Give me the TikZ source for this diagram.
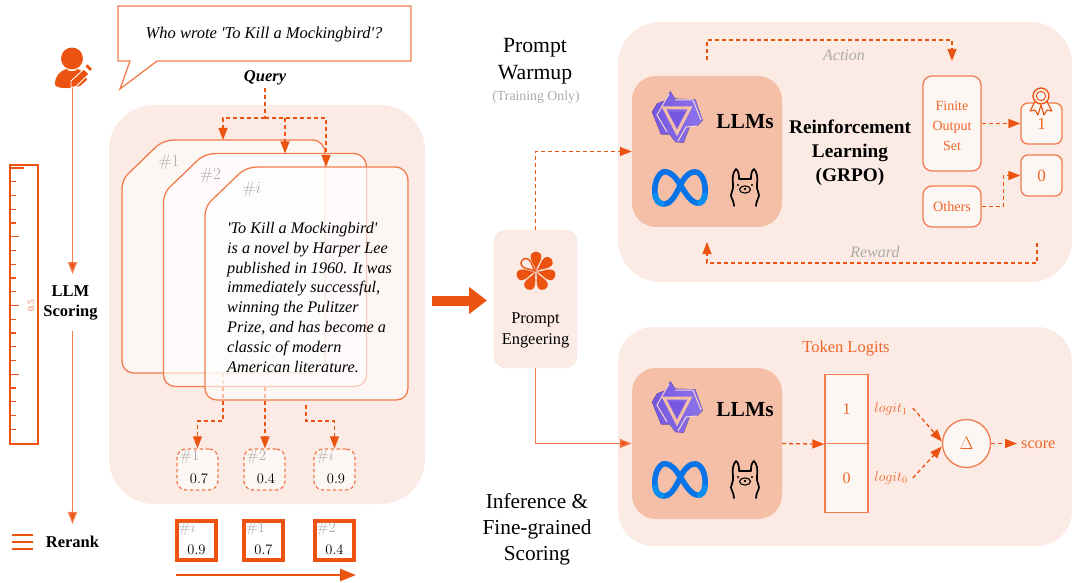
\documentclass[tikz,border=0pt]{standalone}
\usepackage{fix-cm}
\usepackage[no-math]{fontspec}
\setmainfont{Liberation Serif}
\usetikzlibrary{arrows.meta,positioning,calc}

\definecolor{accent}{HTML}{EC5310}
\definecolor{lineorg}{HTML}{F27C4E}
\definecolor{textorg}{HTML}{F0652A}
\definecolor{panelbg}{HTML}{FBEBE4}
\definecolor{llmbg}{HTML}{F5BFA7}
\definecolor{softgray}{HTML}{ABABAB}
\definecolor{qwenA}{HTML}{7556DF}
\definecolor{qwenB}{HTML}{8E74EC}
\definecolor{metaA}{HTML}{0773E6}
\definecolor{metaB}{HTML}{0A8FF0}

\newcommand{\fs}[1]{\fontsize{#1}{#1}\selectfont}

\tikzset{
	panel/.style={fill=panelbg, draw=none, inner sep=0pt},
	llmbox/.style={fill=llmbg, draw=none, rounded corners=24pt, minimum width=150pt, minimum height=151pt, inner sep=0pt},
	softbox/.style={draw=lineorg, line width=1.3pt, fill=white, fill opacity=.6, text opacity=1, rounded corners=9pt, inner sep=0pt, text=textorg, text depth=0pt},
	scorebox/.style={softbox, dash pattern=on 3.5pt off 2.5pt, minimum width=41pt, minimum height=41pt},
	rankbox/.style={draw=accent, line width=3.4pt, fill=white, minimum width=39pt, minimum height=39pt, inner sep=0pt},
	arrowtip/.style={-{Triangle[length=12pt,width=9pt,fill=accent]}},
	dashflow/.style={draw=accent, line width=1.3pt, dash pattern=on 4pt off 3pt, arrowtip},
	dashplain/.style={draw=accent, line width=1.3pt, dash pattern=on 4pt off 3pt},
	solidflow/.style={draw=lineorg, line width=1.4pt, arrowtip},
	idlabel/.style={text=softgray, font=\fs{15}, inner sep=0pt},
	grayword/.style={text=softgray, font=\itshape\fs{16}, inner sep=0pt},
	orgword/.style={text=textorg, inner sep=0pt},
	heading/.style={inner sep=0pt, align=center},
	qwenlogo/.pic={
		\fill[left color=qwenA, right color=qwenB] (-6.7,-25.7) -- (-1.7,-18.3) -- (18.3,-17.7) -- (25.7,3.3) -- (20,9) -- (13,9) -- (6.7,25.7) -- (-1.7,25) -- (-7.3,17.3) -- (-16,17.3) -- (-25,-5) -- (-20,-13.3) -- (-11.7,-16.7) -- cycle;
		\draw[llmbg!60!white, line width=1pt] (-8,-23) -- (-20,-2) -- (-10,15) (-2,-17) -- (16,-17) -- (24,3) (1,24) -- (9,10) -- (20,9);
		\draw[llmbg, line width=3pt, line join=miter] (-13,-9) -- (13,-9) -- (0,16) -- cycle;
		\fill[qwenA] (-8,-5) -- (8,-5) -- (0,9.5) -- cycle;
	},
	metalogo/.pic={
		\draw[metaA, line width=5.6pt, line join=round] (-3,-8) .. controls (-8,-15) and (-13,-17) .. (-17,-16) .. controls (-23,-13) and (-26,-3) .. (-25,5) .. controls (-25,12) and (-21,16) .. (-16,16) .. controls (-8,16) and (-3,4) .. (2,-6) .. controls (6,-13) and (11,-17) .. (16,-16) .. controls (22,-15) and (26,-5) .. (25,5) .. controls (25,12) and (21,16) .. (17,15) .. controls (10,14) and (5,4) .. (-3,-8) -- cycle;
		\draw[metaB, line width=5.6pt] (-25,5) .. controls (-25,12) and (-21,16) .. (-16,16);
		\draw[metaB, line width=5.6pt] (25,5) .. controls (25,12) and (21,16) .. (17,15);
	},
	llamalogo/.pic={
		\draw[black, line width=1.7pt, line join=round, line cap=round] (-11,18) .. controls (-11,13) and (-14,10) .. (-14,7) .. controls (-14,3) and (-11,2) .. (-12,-4) .. controls (-13,-10) and (-12,-16) .. (-9,-19) .. controls (-6,-17) and (-6,-12) .. (-6,-9) -- (6,-9) .. controls (6,-12) and (6,-17) .. (9,-19) .. controls (12,-16) and (13,-10) .. (12,-4) .. controls (11,2) and (14,3) .. (14,7) .. controls (14,10) and (11,13) .. (11,18);
		\draw[black, line width=1.1pt] (0,1.5) ellipse[x radius=5.5pt, y radius=3.6pt];
		\fill[black] (-7,-3) circle[radius=1.2pt] (7,-3) circle[radius=1.2pt] (0,1) circle[radius=1.3pt];
	},
	awardlogo/.pic={
		\draw[accent, line width=1.1pt, fill=panelbg!50!white, line join=round] (-5,4) -- (-11,15) -- (-6,14) -- (-3,19) -- (0,9) -- (3,19) -- (6,14) -- (11,15) -- (5,4) -- cycle;
		\draw[accent, line width=1.3pt, fill=panelbg] (0,0) circle[radius=8pt];
		\draw[accent, line width=1pt, fill=white] (0,0) circle[radius=4.6pt];
	},
	userlogo/.pic={
		\fill[accent] (0,-13.5) circle[radius=11pt];
		\fill[accent] (-17,12) .. controls (-17,3) and (-11,-1) .. (-6,-3) .. controls (-2,0) and (2,0) .. (6,-3) .. controls (10,-1) and (14,1) .. (15,8) -- (8,14) .. controls (-2,17) and (-17,17) .. (-17,12) -- cycle;
		\draw[white, line width=.9pt, fill=accent, line join=round] (-1,15.5) -- (-1,9) -- (12,-3) -- (17,2) -- (4,14.5) -- cycle;
		\fill[accent] (13.5,-5.5) -- (15.5,-7.5) -- (20,-3) -- (18,-1) -- cycle;
	},
	petal/.pic={
		\path[pic actions] (0,-1) .. controls (-1,-6) and (-5.5,-10) .. (-5.3,-15) .. controls (-5,-21.5) and (5,-21.5) .. (5.3,-15) .. controls (5.5,-10) and (1,-6) .. (0,-1) -- cycle;
	},
}

\begin{document}
\begin{tikzpicture}[x=1pt, y=-1pt]
	\useasboundingbox (0,0) rectangle (1072,583);

	% background panels
	\node[panel, rounded corners=45pt, minimum width=316pt, minimum height=399pt] (docpanel) at (267,304.5) {};
	\node[panel, rounded corners=42pt, minimum width=454pt, minimum height=260pt] (rlpanel) at (845,152) {};
	\node[panel, rounded corners=35pt, minimum width=454pt, minimum height=219pt] (logitpanel) at (845,436.5) {};

	% query bubble
	\draw[lineorg, line width=1.3pt, fill=white] (118,6) -- (411,6) -- (411,61) -- (157,61) -- (120,89) -- (130,61) -- (118,61) -- cycle;
	\node[inner sep=0pt, font=\itshape\fs{16.5}] (question) at (264,34.5) {Who wrote \textquotesingle To Kill a Mockingbird\textquotesingle?};
	\node[inner sep=3pt, font=\bfseries\itshape\fs{16.5}] (query) at (265,78) {Query};

	% user and ruler
	\pic at (72,72) {userlogo};
	\coordinate (user) at (72.5,88);
	\node[inner sep=11pt, align=center, font=\bfseries\fontsize{16.5}{20}\selectfont] (scoring) at (70.5,302.5) {LLM\\Scoring};
	\node[inner sep=0pt, font=\bfseries\fs{16.5}] (rerank) at (72.5,542) {Rerank};
	\draw[solidflow] (user) -- (user |- scoring.north);
	\draw[solidflow] (user |- scoring.south) -- ($(user |- rerank.north)+(0,-12)$);
	\draw[accent, line width=1.4pt] (10,165) rectangle (38,444);
	\foreach \k in {0,...,19}
		\draw[accent, line width=1.2pt] (10,168+13.75*\k) -- ++(6,0);
	\foreach \k/\len in {0/14,5/9,10/9,15/9}
		\draw[accent, line width=1.2pt] (10,168+13.75*\k) -- ++(\len,0);
	\node[rotate=90, orgword, text=lineorg, font=\fs{9.5}] (rulerlab) at (31,306) {0.5};
	\foreach \y in {535,542,549}
		\draw[accent, line width=2.4pt] (12,\y) -- (33,\y);

	% scores
	\node[scorebox] (scoreone) at (197.5,469.5) {};
	\node[scorebox] (scoretwo) at (264.5,469.5) {};
	\node[scorebox] (scorei) at (334.5,469.5) {};
	\coordinate (botone) at (223,373);
	\coordinate (bottwo) at (265,387);
	\coordinate (boti) at (306,405);
	\draw[dashflow] (botone) -- ++(0,48) -| (scoreone.north);
	\draw[dashflow] (bottwo) -- (bottwo |- scoretwo.north);
	\draw[dashflow] (boti) -- ++(0,16) -| (scorei.north);
	\foreach \s/\lab/\val in {scoreone/\#1/0.7,scoretwo/\#2/0.4,scorei/\#i/0.9} {
		\node[idlabel, anchor=north west] (\s id) at ($(\s.north west)+(3,2)$) {$\lab$};
		\node[inner sep=0pt, font=\fs{14.5}] (\s val) at ($(\s.center)+(1.5,9)$) {$\val$};
	}

	% documents
	\foreach \cx/\cy/\lab/\name in {122/140/\#1/docone,163.5/153.5/\#2/doctwo,205/167/\#i/doci} {
		\begin{scope}[shift={(\cx,\cy)}]
			\draw[lineorg, line width=1.3pt, fill=white, fill opacity=.6] (0,50) .. controls (0,42) and (3,36) .. (8,32) -- (35,6) .. controls (40,2) and (46,0) .. (53,0) -- (190,0) .. controls (198,0) and (203,6) .. (203,14) -- (203,221) .. controls (203,228) and (198,233) .. (191,233) -- (12,233) .. controls (5,233) and (0,228) .. (0,221) -- cycle;
			\node[idlabel, font=\fs{17}] (\name id) at (47,22) {$\lab$};
			\coordinate (\name) at (0,0);
		\end{scope}
	}
	\node[anchor=north west, inner sep=0pt, align=left, font=\itshape\fontsize{16.2}{19.8}\selectfont] (passage) at (227,222) {\textquotesingle To Kill a Mockingbird\textquotesingle\\is a novel by Harper Lee\\published in 1960. It was\\immediately successful,\\winning the Pulitzer\\Prize, and has become a\\classic of modern\\American literature.};

	% query arrows
	\coordinate (qjoin) at (265,118);
	\coordinate (qmid) at (285,118);
	\draw[dashplain] (query.south) -- (qjoin);
	\draw[dashflow] (qjoin) -| ($(docone)+(101,0)$);
	\draw[dashflow] (qmid) -- ($(doctwo)+(121.5,0)$);
	\draw[dashflow] (qjoin) -| ($(doci)+(121,0)$);

	% ranked result
	\foreach \x/\lab/\val/\name in {196.5/\#i/0.9/rankone,263.5/\#1/0.7/ranktwo,334.5/\#2/0.4/rankthree} {
		\node[rankbox] (\name) at (\x,540.5) {};
		\node[idlabel, anchor=north west] (\name id) at ($(\name.north west)+(3,2.5)$) {$\lab$};
		\node[inner sep=0pt, font=\fs{14.5}] (\name val) at ($(\name.center)+(0,9)$) {$\val$};
	}
	\coordinate (rankstart) at (176,575);
	\coordinate (rankend) at (356,575);
	\draw[accent, line width=2.6pt, -{Triangle[length=16pt,width=12pt]}] (rankstart) -- (rankend);

	% middle column
	\coordinate (fatstart) at (432,300.5);
	\draw[accent, line width=10pt, -{Triangle[length=18pt,width=26pt]}] (fatstart) -- ++(55,0);
	\node[panel, draw=panelbg!90!gray, rounded corners=12pt, minimum width=83pt, minimum height=138pt] (prompt) at (535.5,299) {};
	\foreach \a in {0,103,154,206,257,309}
		\pic[rotate=\a, fill=accent] at (536,271.5) {petal};
	\pic[rotate=51, scale=.9, draw=accent, line width=1.4pt] at (536,271.5) {petal};
	\node[inner sep=0pt, align=center, font=\fontsize{16.4}{21}\selectfont] (promptlab) at (535.5,330) {Prompt\\Engeering};
	\node[heading, font=\fontsize{21.7}{27}\selectfont] (warmup) at (535,61) {Prompt\\Warmup};
	\node[inner sep=0pt, text=softgray, font=\fs{13.8}] (training) at (536,97) {(Training Only)};
	\node[heading, font=\fontsize{21.3}{26}\selectfont] (inference) at (537,529) {Inference \&\\Fine-grained\\Scoring};

	% reinforcement panel
	\node[llmbox] (llmtop) at (707,151.5) {};
	\pic at (677,117) {qwenlogo};
	\pic at (680,188) {metalogo};
	\pic at (745,188) {llamalogo};
	\node[inner sep=0pt, font=\bfseries\fs{21.5}] (llmtoplab) at (745,122) {LLMs};
	\node[inner sep=0pt, align=center, font=\bfseries\fontsize{19.3}{24.2}\selectfont] (rllab) at (850,153) {Reinforcement\\Learning\\(GRPO)};
	\node[softbox, minimum width=58pt, minimum height=95pt] (finite) at (952,123.5) {};
	\node[orgword, align=center, font=\fontsize{14}{19.8}\selectfont] (finitelab) at (952,126) {Finite\\Output\\Set};
	\node[softbox, minimum width=58pt, minimum height=41pt, font=\fs{14.2}] (others) at (952,206.5) {Others};
	\node[softbox, rounded corners=7pt, minimum width=41pt, minimum height=41pt, font=\fs{17}] (yes) at (1041.5,123.5) {1};
	\node[softbox, rounded corners=7pt, minimum width=41pt, minimum height=41pt, font=\fs{17}] (no) at (1041.5,175.5) {0};
	\pic at (1041,96) {awardlogo};
	\draw[dashflow] (finite.east) -- (yes.west);
	\draw[dashflow] (others.east) -- ++(22,0) |- (no.west);
	\coordinate (actionstart) at (707,60);
	\coordinate (actionend) at (952,61);
	\draw[dashflow] (actionstart) -- ++(0,-20) -| (actionend);
	\node[grayword] (action) at (844,55) {Action};
	\coordinate (rewardstart) at (1037,243);
	\coordinate (rewardend) at (707,242);
	\draw[dashflow] (rewardstart) -- ++(0,20) -| (rewardend);
	\node[grayword] (reward) at (875,252) {Reward};
	\draw[dashflow] (prompt.north) |- (llmtop.west);

	% logit panel
	\node[orgword, font=\fs{16.5}] (tokenlab) at (846,349) {Token Logits};
	\node[llmbox] (llmbot) at (707,443.5) {};
	\pic at (677,407) {qwenlogo};
	\pic at (680,480) {metalogo};
	\pic at (745,480) {llamalogo};
	\node[inner sep=0pt, font=\bfseries\fs{21.5}] (llmbotlab) at (745,410) {LLMs};
	\draw[solidflow] (prompt.south) |- (llmbot.west);
	\node[softbox, rounded corners=0pt, minimum width=43pt, minimum height=69pt, font=\fs{16}] (tabone) at (846.5,409) {1};
	\node[softbox, rounded corners=0pt, minimum width=43pt, minimum height=69pt, font=\fs{16}] (tabzero) at (846.5,478) {0};
	\draw[dashflow] (llmbot.east) -- (tabone.south west);
	\node[orgword, font=\fs{14}] (logitone) at (891,409) {$logit_1$};
	\node[orgword, font=\fs{14}] (logitzero) at (891,478) {$logit_0$};
	\node[softbox, circle, minimum size=48pt, font=\fs{18}] (delta) at (966.5,443.5) {$\Delta$};
	\node[orgword, font=\fs{16.2}, anchor=west] (score) at (1021,444.5) {score};
	\draw[dashflow] ($(logitone.east)+(5,-1)$) -- ($(delta.west)+(0,-2)$);
	\draw[dashflow] ($(logitzero.east)+(5,0)$) -- ($(delta.west)+(0,3)$);
	\draw[dashflow] (delta.east) -- ($(score.west)+(-4,-1)$);
\end{tikzpicture}
\end{document}
